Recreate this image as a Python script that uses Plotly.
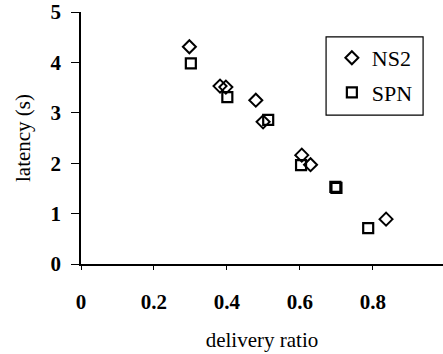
import plotly.graph_objects as go

ns2_x = [0.297, 0.381, 0.397, 0.479, 0.499, 0.605, 0.629, 0.836]
ns2_y = [4.31, 3.53, 3.51, 3.25, 2.82, 2.16, 1.97, 0.89]
spn_x = [0.301, 0.401, 0.513, 0.603, 0.697, 0.700, 0.787]
spn_y = [3.98, 3.31, 2.86, 1.96, 1.53, 1.51, 0.71]

x_ticks = [0, 0.2, 0.4, 0.6, 0.8, 1]
x_labels = ["0", "0.2", "0.4", "0.6", "0.8", "1"]
y_ticks = [0, 1, 2, 3, 4, 5]

serif = "Liberation Serif"
FS = 21

fig = go.Figure()
fig.add_trace(go.Scatter(
    x=ns2_x, y=ns2_y, mode="markers", name="NS2", legendgroup="a", cliponaxis=False,
    marker=dict(symbol="diamond-open", size=10, color="black", line=dict(width=2, color="black")),
))
fig.add_trace(go.Scatter(
    x=spn_x, y=spn_y, mode="markers", name="SPN", legendgroup="b", cliponaxis=False,
    marker=dict(symbol="square-open", size=10, color="black", line=dict(width=2.2, color="black")),
))

fig.update_layout(
    width=443, height=354,
    margin=dict(l=81, r=0, t=12, b=90, autoexpand=False),
    plot_bgcolor="white", paper_bgcolor="white",
    showlegend=True,
    legend=dict(
        x=0.693, y=0.901, xanchor="left", yanchor="top",
        borderwidth=0, bgcolor="rgba(0,0,0,0)",
        font=dict(family=serif, size=22, color="black"),
        itemwidth=30, tracegroupgap=3,
    ),
    font=dict(family=serif, color="black"),
    xaxis=dict(
        range=[0, 0.992], tickvals=x_ticks, ticktext=x_labels, automargin=False,
        showgrid=False, zeroline=False, showline=True, linecolor="black", linewidth=1.5,
        ticks="outside", ticklen=4, tickcolor="black", tickwidth=1,
        ticklabelstandoff=14, ticklabeloverflow="allow",
        tickfont=dict(family=serif, size=FS, color="black", weight="bold"),
        title=dict(text="delivery ratio", font=dict(family=serif, size=FS, color="black"), standoff=19),
    ),
    yaxis=dict(
        range=[0, 5], tickvals=y_ticks, automargin=False,
        showgrid=False, zeroline=False, showline=True, linecolor="black", linewidth=1.5,
        ticks="outside", ticklen=8, tickcolor="black", tickwidth=1,
        ticklabelstandoff=6, ticklabeloverflow="allow",
        tickfont=dict(family=serif, size=FS, color="black", weight="bold"),
        title=dict(text="latency (s)", font=dict(family=serif, size=FS, color="black"), standoff=14),
    ),
)
# legend frame
fig.add_shape(type="rect", xref="paper", yref="paper", x0=0.677, x1=0.945, y0=0.591, y1=0.901,
              line=dict(color="black", width=1.2), fillcolor="rgba(0,0,0,0)", layer="below")
fig.write_html("out.html", config={"displayModeBar": False},
               post_script="document.body.style.margin='0';document.body.style.overflow='hidden';")
